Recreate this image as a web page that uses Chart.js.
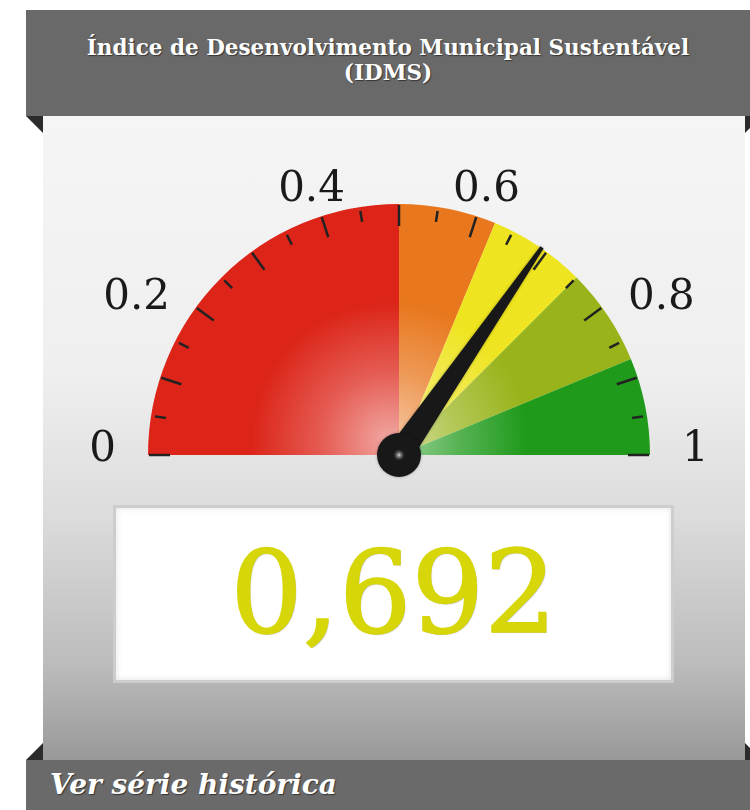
<!DOCTYPE html>
<html>
<head>
<meta charset="utf-8">
<title>IDMS</title>
<script src="https://cdn.jsdelivr.net/npm/chart.js@4.4.1/dist/chart.umd.min.js"></script>
<style>
  html, body { margin: 0; padding: 0; background: #fff; }
  body { width: 750px; height: 810px; position: relative; overflow: hidden; font-family: "DejaVu Serif", serif; }
  #header {
    position: absolute; left: 26px; top: 10px; width: 724px; height: 106px;
    background: #696969; color: #fff; font-weight: bold; font-size: 21.5px; line-height: 25px;
    text-align: center; box-sizing: border-box; padding-top: 25px;
    text-shadow: 1px 1px 1px rgba(0,0,0,0.5);
  }
  #panel {
    position: absolute; left: 43px; top: 116px; width: 702px; height: 644px;
    background: linear-gradient(#f5f5f5 0%, #efefef 40%, #dcdcdc 62%, #bcbcbc 85%, #999 100%);
  }
  .fold { position: absolute; width: 0; height: 0; }
  #foldTL { left: 26px; top: 116px; border-top: 17px solid #2b2b2b; border-left: 17px solid transparent; }
  #foldTR { left: 745px; top: 116px; border-top: 17px solid #2b2b2b; border-right: 17px solid transparent; }
  #foldBL { left: 26px; top: 743px; border-bottom: 17px solid #2b2b2b; border-left: 17px solid transparent; }
  #foldBR { left: 745px; top: 743px; border-bottom: 17px solid #2b2b2b; border-right: 17px solid transparent; }
  #valueBox {
    position: absolute; left: 113px; top: 505px; width: 561px; height: 178px; box-sizing: border-box;
    border: 3px solid #cdcdcd; background: #fff; box-shadow: inset 0 0 6px rgba(0,0,0,0.12);
    text-align: center; line-height: 170px; font-size: 114px; color: #d6d608;
    -webkit-text-stroke: 1.5px #d6d608;
    text-shadow: 1px 1px 1px rgba(0,0,0,0.25);
  }
  #footer {
    position: absolute; left: 26px; top: 760px; width: 724px; height: 50px;
    background: #6a6a6a; color: #fff; font-weight: bold; font-style: italic; font-size: 28px;
    line-height: 50px; padding-left: 24px; box-sizing: border-box;
    text-shadow: 1px 1px 1px rgba(0,0,0,0.5);
  }
  #gauge { position: absolute; left: 0; top: 0; }
</style>
</head>
<body>
<div id="header">Índice de Desenvolvimento Municipal Sustentável<br>(IDMS)</div>
<div id="panel"></div>
<div class="fold" id="foldTL"></div>
<div class="fold" id="foldTR"></div>
<div class="fold" id="foldBL"></div>
<div class="fold" id="foldBR"></div>
<div id="valueBox"></div>
<div id="footer">Ver série histórica</div>
<canvas id="gauge" width="750" height="810"></canvas>
<script>
// gauge bands (limits)
const bandLimits = [0, 0.5, 0.625, 0.75, 0.875, 1];
const bandColors = ["#dc2418", "#e8771d", "#eee41f", "#99b41b", "#1f9a1b"];

// scale
const majorTicks = [0, 0.1, 0.2, 0.3, 0.4, 0.5, 0.6, 0.7, 0.8, 0.9, 1];
const minorTicks = [0.05, 0.15, 0.25, 0.35, 0.45, 0.55, 0.65, 0.75, 0.85, 0.95];
const labelValues = [0, 0.2, 0.4, 0.6, 0.8, 1];
const labelTexts = ["0", "0.2", "0.4", "0.6", "0.8", "1"];

// value
const idmsValue = 0.692;
const idmsText = "0,692";

document.getElementById("valueBox").innerText = idmsText;

let bandSizes = [];
let bandLabels = [];
for (let i = 1; i < bandLimits.length; i++) {
    bandSizes.push(bandLimits[i] - bandLimits[i - 1]);
    bandLabels.push(bandLimits[i - 1] + " - " + bandLimits[i]);
}

const gaugePlugin = {
    id: "gaugeDecor",
    afterDatasetsDraw(chart) {
        const arcs = chart.getDatasetMeta(0).data;
        const cx = arcs[0].x, cy = arcs[0].y, R = arcs[0].outerRadius;
        const a0 = arcs[0].startAngle, a1 = arcs[arcs.length - 1].endAngle;
        const ang = v => a0 + (a1 - a0) * v;
        const ctx = chart.ctx;

        // soft light near the hub
        ctx.save();
        ctx.beginPath();
        ctx.moveTo(cx, cy);
        ctx.arc(cx, cy, R, a0, a1);
        ctx.closePath();
        ctx.clip();
        let glow = ctx.createRadialGradient(cx - 10, cy - 15, 0, cx - 10, cy - 15, R * 0.55);
        glow.addColorStop(0, "rgba(255,255,255,0.6)");
        glow.addColorStop(0.5, "rgba(255,255,255,0.25)");
        glow.addColorStop(1, "rgba(255,255,255,0)");
        ctx.fillStyle = glow;
        ctx.fillRect(cx - R, cy - R, 2 * R, R);
        ctx.restore();

        // ticks
        ctx.save();
        ctx.strokeStyle = "#222";
        ctx.lineWidth = 2.5;
        ctx.lineCap = "butt";
        function tick(v, r1, r2) {
            const t = ang(v);
            ctx.beginPath();
            ctx.moveTo(cx + Math.cos(t) * r1, cy + Math.sin(t) * r1);
            ctx.lineTo(cx + Math.cos(t) * r2, cy + Math.sin(t) * r2);
            ctx.stroke();
        }
        majorTicks.forEach(v => tick(v, R - 1, R - 22));
        minorTicks.forEach(v => tick(v, R - 4, R - 15));
        ctx.restore();

        // labels
        ctx.save();
        ctx.fillStyle = "#1a1a1a";
        ctx.font = "42px 'DejaVu Serif'";
        ctx.textBaseline = "middle";
        labelValues.forEach((v, i) => {
            const t = ang(v);
            const c = Math.cos(t), s = Math.sin(t);
            const x = cx + c * (R + 32);
            const y = cy + s * (R + 32) + 30 * Math.abs(c * s);
            ctx.textAlign = Math.abs(c) < 0.5 ? "center" : (c < 0 ? "right" : "left");
            ctx.fillText(labelTexts[i], x, y - 5);
        });
        ctx.restore();

        // needle
        const t = ang(idmsValue);
        const n = t + Math.PI / 2;
        ctx.save();
        ctx.shadowColor = "rgba(0,0,0,0.3)";
        ctx.shadowBlur = 3;
        ctx.fillStyle = "#181818";
        ctx.beginPath();
        ctx.moveTo(cx + Math.cos(n) * 13, cy + Math.sin(n) * 13);
        ctx.lineTo(cx + Math.cos(t) * (R + 1) + Math.cos(n) * 2, cy + Math.sin(t) * (R + 1) + Math.sin(n) * 2);
        ctx.lineTo(cx + Math.cos(t) * (R + 1) - Math.cos(n) * 2, cy + Math.sin(t) * (R + 1) - Math.sin(n) * 2);
        ctx.lineTo(cx - Math.cos(n) * 13, cy - Math.sin(n) * 13);
        ctx.closePath();
        ctx.fill();
        ctx.beginPath();
        ctx.arc(cx, cy, 22, 0, Math.PI * 2);
        ctx.fill();
        ctx.restore();

        ctx.save();
        let dot = ctx.createRadialGradient(cx, cy, 0, cx, cy, 6);
        dot.addColorStop(0, "rgba(220,220,220,1)");
        dot.addColorStop(1, "rgba(80,80,80,0)");
        ctx.fillStyle = dot;
        ctx.beginPath();
        ctx.arc(cx, cy, 6, 0, Math.PI * 2);
        ctx.fill();
        ctx.restore();
    }
};

new Chart(document.getElementById("gauge"), {
    type: "doughnut",
    data: {
        labels: bandLabels,
        datasets: [{
            data: bandSizes,
            backgroundColor: bandColors,
            borderWidth: 0
        }]
    },
    options: {
        responsive: false,
        animation: false,
        events: [],
        rotation: -90,
        circumference: 180,
        cutout: 0,
        layout: { padding: { left: 148, right: 100, top: 204, bottom: 355 } },
        plugins: { legend: { display: false }, tooltip: { enabled: false } }
    },
    plugins: [gaugePlugin]
});
</script>
</body>
</html>
